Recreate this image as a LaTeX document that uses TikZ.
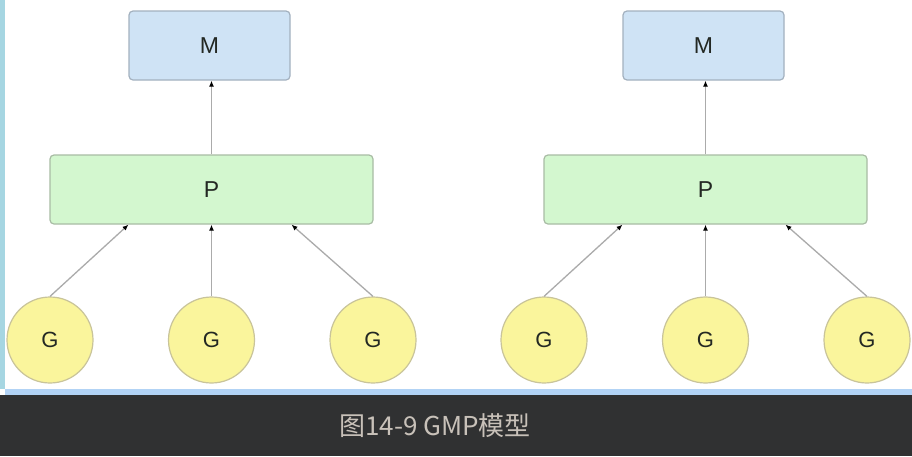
\documentclass[tikz,border=0pt]{standalone}
\usepackage{fontspec}
\setmainfont{Liberation Sans}
\newfontfamily\cjk{Noto Sans CJK SC}
\usetikzlibrary{arrows.meta}
\definecolor{mfill}{HTML}{CFE3F5}
\definecolor{mdraw}{HTML}{A3B1BF}
\definecolor{pfill}{HTML}{D3F7CF}
\definecolor{pdraw}{HTML}{A8BCA4}
\definecolor{gfill}{HTML}{FAF59C}
\definecolor{gdraw}{HTML}{C9C49A}
\definecolor{linec}{HTML}{ABABAB}
\definecolor{txt}{HTML}{232823}
\definecolor{band}{HTML}{303132}
\definecolor{capc}{HTML}{C8C1B9}
\definecolor{blueline}{HTML}{B2D3F5}
\definecolor{stripe}{HTML}{A6D6E2}
\tikzset{
  mbox/.style={draw=mdraw, fill=mfill, line width=1.2pt, rounded corners=4pt, minimum width=161pt, minimum height=69pt, text=txt, font=\fontsize{23}{26}\selectfont, inner sep=0pt},
  pbox/.style={draw=pdraw, fill=pfill, line width=1.2pt, rounded corners=4pt, minimum width=323pt, minimum height=69pt, text=txt, font=\fontsize{23}{26}\selectfont, inner sep=0pt},
  gcirc/.style={circle, draw=gdraw, fill=gfill, line width=1.2pt, minimum size=86pt, text=txt, font=\fontsize{22}{26}\selectfont, inner sep=0pt},
  arr/.style={draw=linec, line width=1.3pt, -{Latex[length=6pt,width=5pt,black]}}
}
\begin{document}
\begin{tikzpicture}[x=1pt,y=-1pt]
\useasboundingbox (0,0) rectangle (912,456);
\fill[white] (0,0) rectangle (912,456);
\fill[stripe] (0,0) rectangle (5,389);
\fill[blueline] (5,389) rectangle (912,395);
\fill[band] (0,395) rectangle (912,456);
\node[font=\cjk\fontsize{26}{29}\selectfont, text=capc] (cap) at (435,426) {图14-9 GMP模型};
% left group
\node[mbox] (m1) at (209.5,45.5) {M};
\node[pbox] (p1) at (211.5,189.5) {P};
\node[gcirc] (g1) at (50,340) {G};
\node[gcirc] (g2) at (211.5,340) {G};
\node[gcirc] (g3) at (373,340) {G};
\draw[arr] (p1.north) -- (p1.north |- m1.south);
\draw[arr] (g1.north) -- ([xshift=-83pt]p1.south);
\draw[arr] (g2.north) -- (p1.south);
\draw[arr] (g3.north) -- ([xshift=80pt]p1.south);
% right group
\node[mbox] (m2) at (703.5,45.5) {M};
\node[pbox] (p2) at (705.5,189.5) {P};
\node[gcirc] (g4) at (544,340) {G};
\node[gcirc] (g5) at (705.5,340) {G};
\node[gcirc] (g6) at (867,340) {G};
\draw[arr] (p2.north) -- (p2.north |- m2.south);
\draw[arr] (g4.north) -- ([xshift=-83pt]p2.south);
\draw[arr] (g5.north) -- (p2.south);
\draw[arr] (g6.north) -- ([xshift=80pt]p2.south);
\end{tikzpicture}
\end{document}
